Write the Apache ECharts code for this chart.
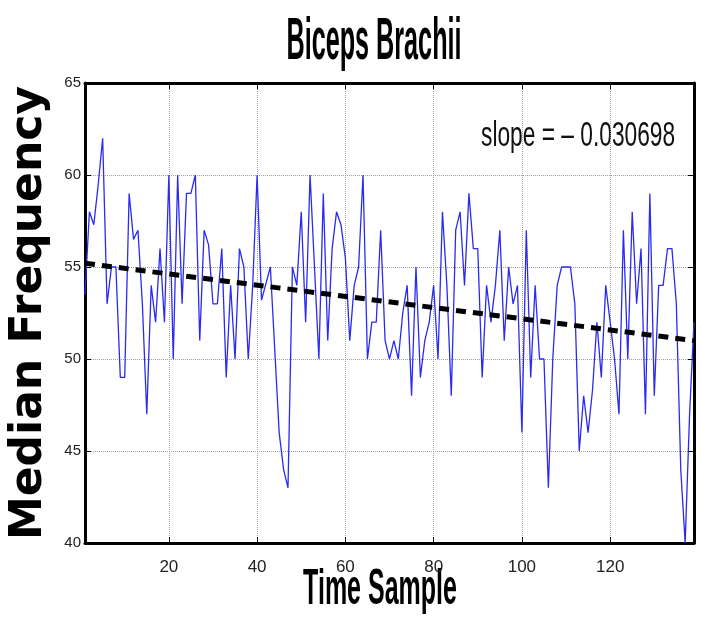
<!DOCTYPE html>
<html>
<head>
<meta charset="utf-8">
<title>Biceps Brachii</title>
<script src="https://cdn.jsdelivr.net/npm/echarts@6/dist/echarts.min.js"></script>
<style>
  html, body { margin: 0; padding: 0; background: #fff; }
  #chart { width: 701px; height: 621px; }
</style>
</head>
<body>
<div id="chart"></div>
<script>
// median frequency per time sample
const medianFreq = [
  53.5, 58, 57.3, 59.5, 62, 53, 55, 55, 49, 49,
  59, 56.5, 57, 53, 47, 54, 52, 56, 52, 60,
  50, 60, 53, 59, 59, 60, 51, 57, 56.2, 53,
  53, 56, 49, 54, 50, 56, 55, 50, 54, 60,
  53.2, 54.1, 55, 50.5, 46, 44, 43, 55, 54, 58,
  52, 60, 55, 50, 59, 51, 56, 58, 57.3, 55.5,
  51, 54, 55, 60, 50, 52, 52, 57, 51, 50,
  51, 50, 52.5, 54, 48, 55, 49, 51, 52, 54,
  50, 58, 54, 48, 57, 58, 54, 59, 56, 56,
  49, 54, 52, 54, 57, 51, 55, 53, 54, 46,
  57, 49, 54, 50, 50, 43, 50, 54, 55, 55,
  55, 53, 45, 48, 46, 48.3, 52, 49, 54, 52,
  50, 47, 57, 50, 58, 53, 56, 47, 59, 48,
  54, 54, 56, 56, 53, 44, 40, 47, 52
];
// fitted trend line end points
const trendX = [1, 139];
const trendY = [55.2, 51.0];
const xTicks = [20, 40, 60, 80, 100, 120];
const slopeText = 'slope = \u2013 0.030698';

const sans = "'Liberation Sans', Arial, sans-serif";

const chart = echarts.init(document.getElementById('chart'));

const lineData = medianFreq.map((v, i) => [i + 1, v]);
const trendData = trendX.map((x, i) => [x, trendY[i]]);

const option = {
  backgroundColor: '#fff',
  animation: false,
  grid: {
    left: 65,
    right: 7,
    top: 83,
    bottom: 78
  },
  xAxis: [
    {
      type: 'value',
      min: 1,
      max: 139,
      axisLine: { show: true, onZero: false, lineStyle: { color: '#000', width: 3 } },
      axisTick: { inside: true, length: 6, customValues: xTicks, lineStyle: { color: '#000', width: 1 } },
      axisLabel: { customValues: xTicks, margin: 16, fontFamily: sans, fontSize: 17, color: '#222' },
      splitLine: { show: true, lineStyle: { color: '#a0a0a0', type: 'dotted', width: 1 } }
    },
    {
      type: 'value',
      position: 'top',
      min: 1,
      max: 139,
      axisLine: { show: true, onZero: false, lineStyle: { color: '#000', width: 3 } },
      axisTick: { inside: true, length: 6, customValues: xTicks, lineStyle: { color: '#000', width: 1 } },
      axisLabel: { show: false },
      splitLine: { show: false }
    }
  ],
  yAxis: [
    {
      type: 'value',
      min: 40,
      max: 65,
      interval: 5,
      name: 'Median Frequency',
      nameLocation: 'middle',
      nameGap: 33,
      nameTextStyle: {
        fontFamily: "'DejaVu Sans', sans-serif",
        fontWeight: 'bold',
        fontSize: 44,
        color: '#000'
      },
      axisLine: { show: true, onZero: false, lineStyle: { color: '#000', width: 3 } },
      axisTick: { inside: true, length: 6, lineStyle: { color: '#000', width: 1 } },
      axisLabel: { margin: 4, fontFamily: sans, fontSize: 15, color: '#222' },
      splitLine: { show: true, lineStyle: { color: '#a0a0a0', type: 'dotted', width: 1 } }
    },
    {
      type: 'value',
      position: 'right',
      min: 40,
      max: 65,
      interval: 5,
      axisLine: { show: true, onZero: false, lineStyle: { color: '#000', width: 3 } },
      axisTick: { inside: true, length: 6, lineStyle: { color: '#000', width: 1 } },
      axisLabel: { show: false },
      splitLine: { show: false }
    }
  ],
  series: [
    {
      name: 'Median Frequency',
      type: 'line',
      data: lineData,
      showSymbol: false,
      lineStyle: { color: '#2a2af2', width: 1.3 },
      z: 3
    },
    {
      name: 'Trend',
      type: 'line',
      data: trendData,
      showSymbol: false,
      lineStyle: { color: '#000', width: 5, type: [10, 7] },
      z: 4
    }
  ],
  // the picture's text is squeezed sideways, so these are scaled on x
  graphic: [
    {
      type: 'text',
      x: 374,
      y: 42,
      scaleX: 0.42,
      style: {
        text: 'Biceps Brachii',
        fontFamily: sans,
        fontWeight: 'bold',
        fontSize: 60,
        fill: '#000',
        align: 'center',
        verticalAlign: 'middle'
      }
    },
    {
      type: 'text',
      x: 380,
      y: 590,
      scaleX: 0.5,
      style: {
        text: 'Time Sample',
        fontFamily: sans,
        fontWeight: 'bold',
        fontSize: 50,
        fill: '#000',
        align: 'center',
        verticalAlign: 'middle'
      }
    },
    {
      type: 'text',
      x: 481,
      y: 136,
      scaleX: 0.65,
      style: {
        text: slopeText,
        fontFamily: sans,
        fontSize: 35,
        fill: '#111',
        align: 'left',
        verticalAlign: 'middle'
      }
    }
  ]
};

chart.setOption(option);
window.addEventListener('resize', () => chart.resize());
</script>
</body>
</html>
